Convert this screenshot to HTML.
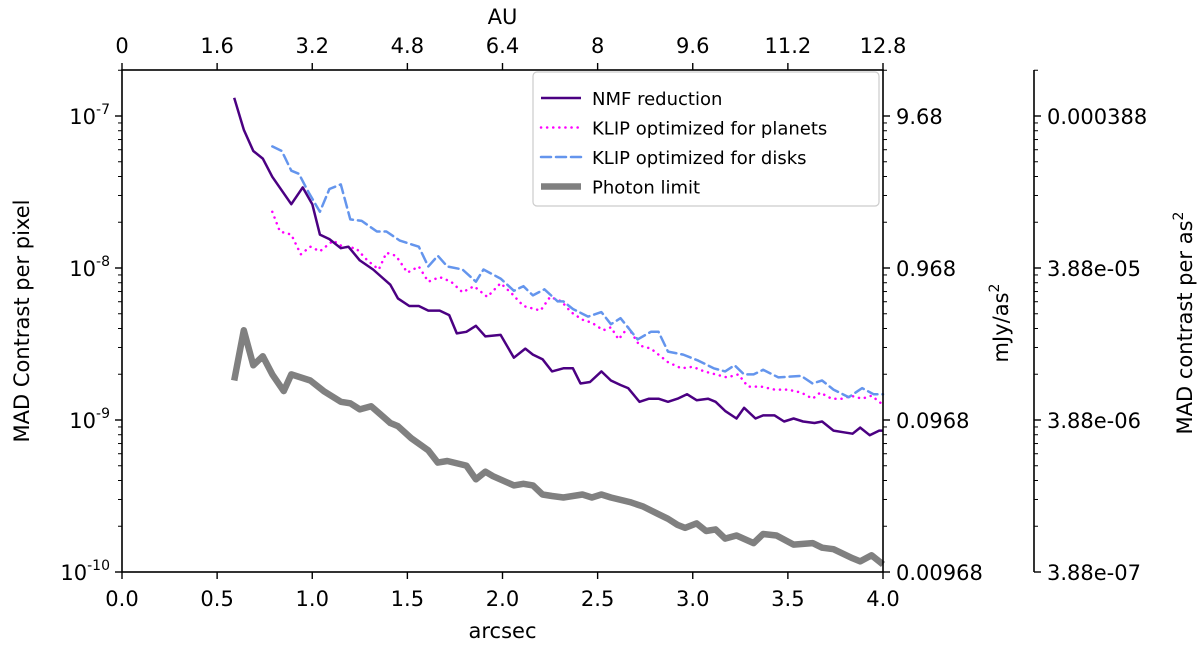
<!DOCTYPE html>
<html><head><meta charset="utf-8"><style>
body{margin:0;background:#fff;}
svg{display:block;font-family:"DejaVu Sans","Liberation Sans",sans-serif;}
</style></head><body>
<svg id="chart" width="1202" height="653" viewBox="0 0 1202 653" xmlns="http://www.w3.org/2000/svg"></svg>
<script>
// ---- data (x in arcsec, y as log10 contrast) ----
const nmfX=[0.59,0.64,0.69,0.74,0.79,0.89,0.95,1.0,1.04,1.09,1.15,1.19,1.25,1.32,1.41,1.45,1.51,1.56,1.61,1.67,1.72,1.76,1.81,1.86,1.91,1.99,2.06,2.12,2.16,2.21,2.26,2.32,2.37,2.41,2.46,2.52,2.57,2.62,2.66,2.72,2.77,2.82,2.87,2.92,2.97,3.02,3.08,3.12,3.17,3.23,3.27,3.33,3.37,3.43,3.48,3.53,3.58,3.64,3.68,3.74,3.79,3.84,3.88,3.93,3.98,4.0];
const nmfY=[-6.88,-7.09,-7.23,-7.28,-7.40,-7.58,-7.47,-7.58,-7.78,-7.81,-7.87,-7.86,-7.95,-8.01,-8.11,-8.20,-8.25,-8.25,-8.28,-8.28,-8.31,-8.43,-8.42,-8.38,-8.45,-8.44,-8.59,-8.53,-8.57,-8.60,-8.68,-8.66,-8.66,-8.76,-8.75,-8.68,-8.74,-8.77,-8.79,-8.88,-8.86,-8.86,-8.88,-8.86,-8.83,-8.87,-8.86,-8.88,-8.94,-8.99,-8.92,-8.99,-8.97,-8.97,-9.01,-8.99,-9.01,-9.02,-9.01,-9.07,-9.08,-9.09,-9.05,-9.10,-9.07,-9.07];
const planX=[0.79,0.83,0.89,0.94,0.99,1.04,1.11,1.16,1.23,1.29,1.35,1.39,1.44,1.5,1.56,1.61,1.67,1.73,1.79,1.85,1.92,1.99,2.05,2.11,2.20,2.25,2.31,2.36,2.42,2.47,2.53,2.57,2.61,2.66,2.72,2.78,2.82,2.87,2.94,3.0,3.06,3.12,3.18,3.24,3.29,3.36,3.43,3.50,3.57,3.63,3.67,3.73,3.79,3.83,3.89,3.94,3.99];
const planY=[-7.63,-7.76,-7.78,-7.91,-7.86,-7.89,-7.82,-7.86,-7.87,-7.95,-8.01,-7.90,-7.92,-8.03,-7.99,-8.09,-8.06,-8.09,-8.16,-8.12,-8.19,-8.10,-8.17,-8.25,-8.28,-8.19,-8.22,-8.29,-8.34,-8.36,-8.41,-8.39,-8.47,-8.39,-8.51,-8.53,-8.57,-8.62,-8.66,-8.65,-8.68,-8.70,-8.72,-8.70,-8.78,-8.78,-8.80,-8.80,-8.82,-8.86,-8.82,-8.86,-8.86,-8.84,-8.86,-8.84,-8.89];
const diskX=[0.79,0.84,0.89,0.93,0.98,1.04,1.09,1.15,1.20,1.26,1.34,1.39,1.46,1.56,1.61,1.66,1.71,1.79,1.86,1.90,1.99,2.06,2.11,2.16,2.22,2.29,2.32,2.37,2.45,2.52,2.57,2.62,2.71,2.78,2.82,2.87,2.95,3.03,3.11,3.17,3.22,3.27,3.32,3.37,3.45,3.57,3.63,3.68,3.74,3.82,3.89,3.95,4.0];
const diskY=[-7.20,-7.23,-7.36,-7.38,-7.50,-7.63,-7.48,-7.45,-7.68,-7.69,-7.76,-7.76,-7.82,-7.86,-7.99,-7.92,-7.99,-8.01,-8.09,-8.01,-8.07,-8.15,-8.12,-8.18,-8.14,-8.22,-8.22,-8.27,-8.32,-8.29,-8.37,-8.33,-8.47,-8.42,-8.42,-8.55,-8.57,-8.61,-8.66,-8.68,-8.64,-8.70,-8.70,-8.67,-8.72,-8.71,-8.76,-8.74,-8.80,-8.85,-8.79,-8.83,-8.83];
const photX=[0.59,0.64,0.69,0.74,0.79,0.85,0.89,0.99,1.06,1.15,1.20,1.25,1.31,1.41,1.45,1.52,1.61,1.66,1.71,1.81,1.86,1.91,1.95,2.06,2.11,2.16,2.21,2.26,2.32,2.42,2.47,2.52,2.57,2.67,2.74,2.82,2.87,2.92,2.96,3.02,3.07,3.12,3.17,3.23,3.32,3.37,3.44,3.53,3.63,3.68,3.74,3.84,3.88,3.94,4.0];
const photY=[-8.74,-8.41,-8.64,-8.58,-8.70,-8.81,-8.70,-8.74,-8.81,-8.88,-8.89,-8.93,-8.91,-9.02,-9.04,-9.12,-9.20,-9.28,-9.27,-9.30,-9.39,-9.34,-9.37,-9.43,-9.42,-9.43,-9.49,-9.50,-9.51,-9.49,-9.51,-9.49,-9.51,-9.54,-9.57,-9.62,-9.65,-9.69,-9.71,-9.68,-9.73,-9.72,-9.78,-9.76,-9.81,-9.75,-9.76,-9.82,-9.81,-9.84,-9.85,-9.91,-9.93,-9.89,-9.95];
const xTicks=[0,0.5,1,1.5,2,2.5,3,3.5,4];
const xTickLabels=["0.0","0.5","1.0","1.5","2.0","2.5","3.0","3.5","4.0"];
const auLabels=["0","1.6","3.2","4.8","6.4","8","9.6","11.2","12.8"];
const yDecades=[-10,-9,-8,-7];
const mjyLabels=["0.00968","0.0968","0.968","9.68"];
const asLabels=["3.88e-07","3.88e-06","3.88e-05","0.000388"];

const L=122,R=883,T=70,B=572;
const FS=21;
const X=v=>L+(v/4)*(R-L);
const Y=lg=>B-(lg+10)*152;
const yTop=-10+(B-T)/152;
const svg=document.getElementById('chart');
const NS="http://www.w3.org/2000/svg";
function mk(tag,attrs,parent){const e=document.createElementNS(NS,tag);for(const k in attrs)e.setAttribute(k,attrs[k]);(parent||svg).appendChild(e);return e;}
function txt(s,x,y,attrs,parent){const e=mk('text',Object.assign({x:x,y:y,'font-size':FS,fill:'#000'},attrs),parent);e.textContent=s;return e;}

function series(xs,ys,name,stroke,w,dash){
  const d=xs.map((v,i)=>(i?'L':'M')+X(v).toFixed(1)+','+Y(ys[i]).toFixed(1)).join(' ');
  const p=mk('path',{d:d,fill:'none',stroke:stroke,'stroke-width':w,'stroke-linejoin':'round','stroke-linecap':dash?'round':'butt'});
  if(dash)p.setAttribute('stroke-dasharray',dash);
  
  
}
series(photX,photY,'photon-limit-line','#808080',6.5,null);
series(planX,planY,'klip-planets-line','#ff00ff',2.5,'0.1,6');
series(diskX,diskY,'klip-disks-line','#6495ed',2.5,'10,5');
series(nmfX,nmfY,'nmf-reduction-line','#4b0082',2.5,null);

const fr=mk('rect',{x:L,y:T,width:R-L,height:B-T,fill:'none',stroke:'#000','stroke-width':1.6});


xTicks.forEach((v,i)=>{
  const x=X(v);
  mk('line',{x1:x,y1:B,x2:x,y2:B+7,stroke:'#000','stroke-width':1.4});
  const t=txt(xTickLabels[i],x,B+34,{'text-anchor':'middle'});
  
  mk('line',{x1:x,y1:T,x2:x,y2:T-7,stroke:'#000','stroke-width':1.4});
  const a=txt(auLabels[i],x,T-17,{'text-anchor':'middle'});
  
});
const ax2=1034;
mk('line',{x1:ax2,y1:T,x2:ax2,y2:B,stroke:'#000','stroke-width':1.6});
yDecades.forEach((d,i)=>{
  const y=Y(d);
  mk('line',{x1:L,y1:y,x2:L-7,y2:y,stroke:'#000','stroke-width':1.4});
  mk('line',{x1:R,y1:y,x2:R+7,y2:y,stroke:'#000','stroke-width':1.4});
  mk('line',{x1:ax2,y1:y,x2:ax2+7,y2:y,stroke:'#000','stroke-width':1.4});
  const g=mk('text',{x:L-12,y:y+8,'font-size':FS,'text-anchor':'end'});
  
  g.textContent='10';
  const s=mk('tspan',{dy:-10,'font-size':14},g);s.textContent=String(d);
  const m=txt(mjyLabels[i],R+13,y+8,{});
  
  const q=txt(asLabels[i],ax2+13,y+8,{});
  
});
for(let d=-10;d<yTop;d++){for(let k=2;k<=9;k++){const lg=d+Math.log10(k);if(lg>yTop)break;const y=Y(lg);
  mk('line',{x1:L,y1:y,x2:L-4,y2:y,stroke:'#000','stroke-width':1});
  mk('line',{x1:R,y1:y,x2:R+4,y2:y,stroke:'#000','stroke-width':1});
  mk('line',{x1:ax2,y1:y,x2:ax2+4,y2:y,stroke:'#000','stroke-width':1});}}

let t;
t=txt('arcsec',X(2),B+66,{'text-anchor':'middle'});
t=txt('AU',X(2),24,{'text-anchor':'middle'});
t=txt('MAD Contrast per pixel',0,0,{'text-anchor':'middle',transform:'translate(29,'+((T+B)/2)+') rotate(-90)'});
t=mk('text',{'font-size':FS,'text-anchor':'middle',transform:'translate(1008,'+((T+B)/2+2)+') rotate(-90)'});
t.textContent='mJy/as';let sp=mk('tspan',{dy:-9,'font-size':14},t);sp.textContent='2';
t=mk('text',{'font-size':FS,'text-anchor':'middle',transform:'translate(1192,'+((T+B)/2+2)+') rotate(-90)'});
t.textContent='MAD contrast per as';sp=mk('tspan',{dy:-9,'font-size':14},t);sp.textContent='2';

const lg=mk('g',{});
mk('rect',{x:533,y:72,width:346,height:134,rx:4,fill:'#fff','fill-opacity':0.85,stroke:'#ccc','stroke-width':1.2},lg);
const legNames=['NMF reduction','KLIP optimized for planets','KLIP optimized for disks','Photon limit'];
const legCol=['#4b0082','#ff00ff','#6495ed','#808080'];
const legW=[2.5,2.5,2.5,6.5];const legDash=[null,'0.1,6','10,5',null];
legNames.forEach((n,i)=>{
  const y=98+i*29.5;
  const e=mk('g',{},lg);
  const l=mk('line',{x1:541,y1:y,x2:581,y2:y,stroke:legCol[i],'stroke-width':legW[i],'stroke-linecap':legDash[i]?'round':'butt'},e);
  if(legDash[i])l.setAttribute('stroke-dasharray',legDash[i]);
  txt(n,592,y+7,{'font-size':18},e);
});
</script>
</body></html>
